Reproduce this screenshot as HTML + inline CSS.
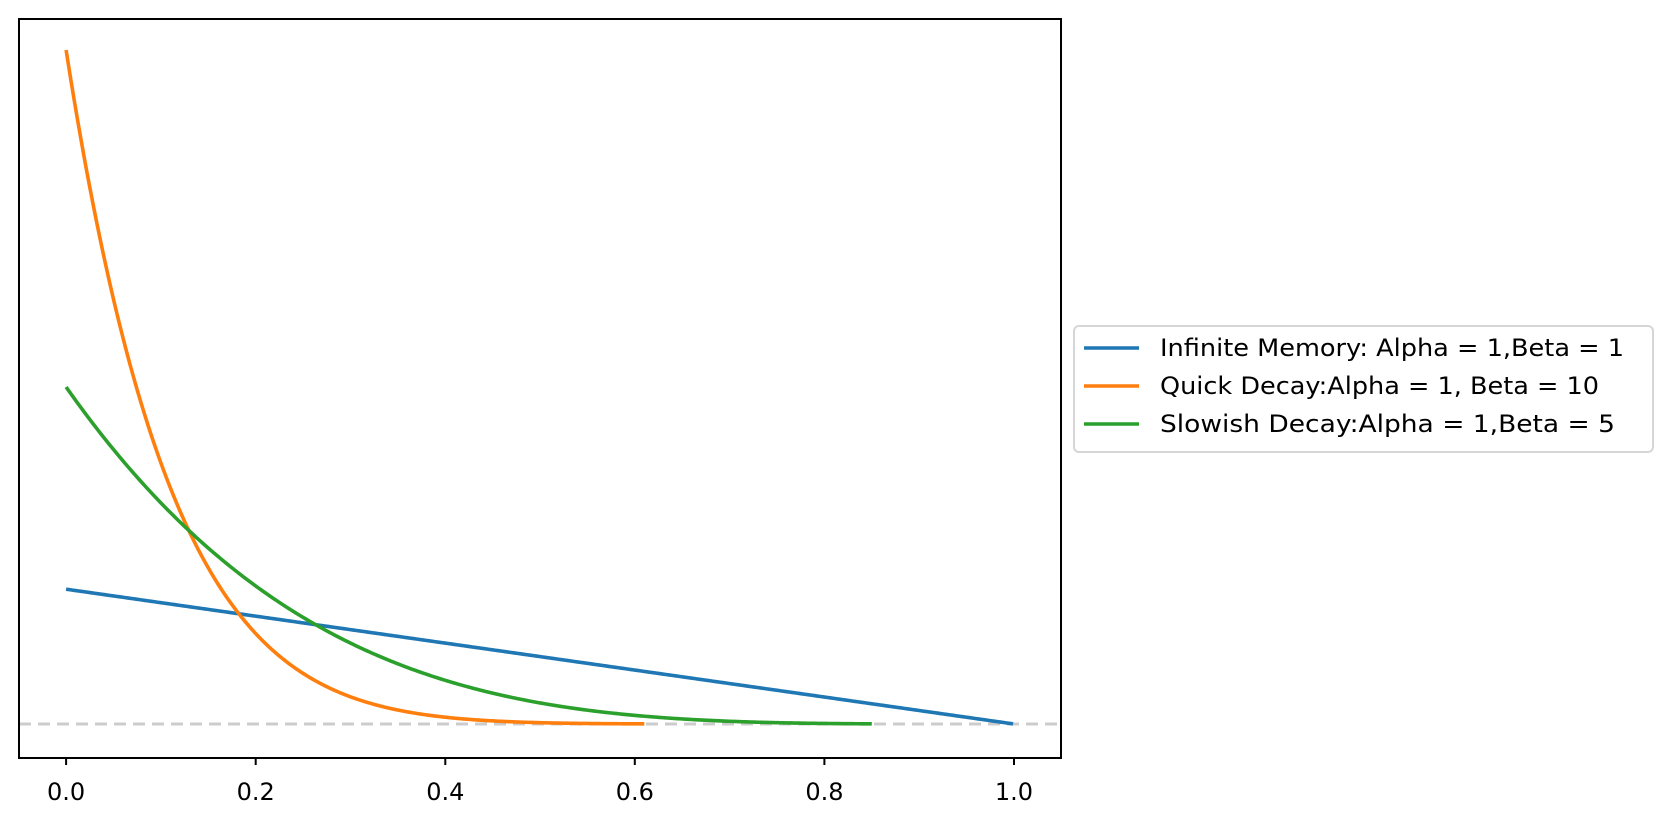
<!DOCTYPE html>
<html><head><meta charset="utf-8"><style>html,body{margin:0;padding:0;background:#fff}svg{display:block}</style></head>
<body>
<svg id="s" width="1672" height="822" xmlns="http://www.w3.org/2000/svg" font-family="DejaVu Sans, Liberation Sans, sans-serif">
<rect width="1672" height="822" fill="#fff"/>
<line x1="19" y1="724" x2="1061" y2="724" stroke="#cccccc" stroke-width="3" stroke-dasharray="12,7"/>
<path id="blue" fill="none" stroke="#1f77b4" stroke-width="3.6"/>
<path id="orange" fill="none" stroke="#ff7f0e" stroke-width="3.6"/>
<path id="green" fill="none" stroke="#2ca02c" stroke-width="3.6"/>
<rect x="19" y="19" width="1042" height="739" fill="none" stroke="#000" stroke-width="2"/>
<g stroke="#000" stroke-width="2">
<line x1="66.1" y1="758" x2="66.1" y2="765"/>
<line x1="255.7" y1="758" x2="255.7" y2="765"/>
<line x1="445.3" y1="758" x2="445.3" y2="765"/>
<line x1="634.8" y1="758" x2="634.8" y2="765"/>
<line x1="824.4" y1="758" x2="824.4" y2="765"/>
<line x1="1014" y1="758" x2="1014" y2="765"/>
</g>
<g font-size="24" text-anchor="middle" fill="#000">
<text x="66.1" y="800">0.0</text>
<text x="255.7" y="800">0.2</text>
<text x="445.3" y="800">0.4</text>
<text x="634.8" y="800">0.6</text>
<text x="824.4" y="800">0.8</text>
<text x="1014" y="800">1.0</text>
</g>
<rect x="1074" y="326" width="579" height="126" rx="5" fill="#fff" stroke="#d6d6d6" stroke-width="2"/>
<line x1="1084" y1="348" x2="1139" y2="348" stroke="#1f77b4" stroke-width="3.6"/>
<line x1="1084" y1="386" x2="1139" y2="386" stroke="#ff7f0e" stroke-width="3.6"/>
<line x1="1084" y1="424" x2="1139" y2="424" stroke="#2ca02c" stroke-width="3.6"/>
<g font-size="24" fill="#000">
<text x="1160" y="356" textLength="464" lengthAdjust="spacingAndGlyphs">Infinite Memory: Alpha = 1,Beta = 1</text>
<text x="1160" y="394" textLength="439" lengthAdjust="spacingAndGlyphs">Quick Decay:Alpha = 1, Beta = 10</text>
<text x="1160" y="432" textLength="455" lengthAdjust="spacingAndGlyphs">Slowish Decay:Alpha = 1,Beta = 5</text>
</g>
</svg>
<script>
(function(){
var X=function(v){return 66.1+v*947.9;}, Y=function(h){return 724-h*67.4;};
function mk(f,end){var d="",n=300;for(var i=0;i<=n;i++){var v=end*i/n;d+=(i?"L":"M")+X(v).toFixed(2)+","+Y(f(v)).toFixed(2);}return d;}
document.getElementById("blue").setAttribute("d",mk(function(v){return 2*(1-v);},0.999));
document.getElementById("orange").setAttribute("d",mk(function(v){return 10*Math.pow(1-v,9);},0.61));
document.getElementById("green").setAttribute("d",mk(function(v){return 5*Math.pow(1-v,4);},0.85));
})();
</script>
</body></html>
